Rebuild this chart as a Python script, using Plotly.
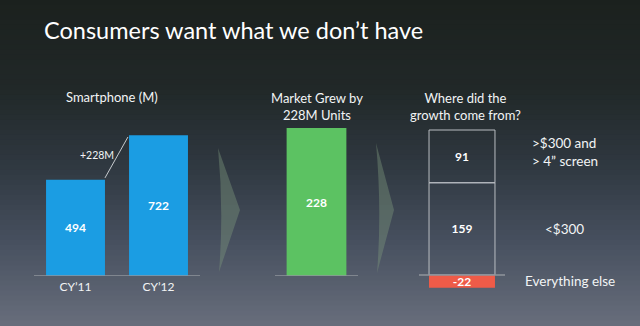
import plotly.graph_objects as go

W, H = 640, 326

# ---------------- data ----------------
years = ["CY’11", "CY’12"]
smartphones = [494, 722]
growth_cat = ["Market"]
growth = [228]
seg_cat = ["Source"]
seg_names = ["<$300", ">$300 and<br>> 4” screen", "Everything else"]
seg_values = [159, 91, -22]
growth_text = "+228M"
title = "Consumers want what we don’t have"

FONT = "Lato"
WHITE = "#f2f4f5"
BLUE = "#1b9de3"
GREEN = "#5cc262"
RED = "#ef5b48"
BOX_LINE = "#b9bdc2"
BASE_LINE = "#8f959d"


def px(x):
    return x / W


def py(y):
    return 1 - y / H


fig = go.Figure()

fig.add_trace(go.Bar(
    x=years, y=smartphones, xaxis="x", yaxis="y", width=0.71,
    marker=dict(color=BLUE, line=dict(width=0)),
    text=smartphones, textposition="inside", insidetextanchor="middle",
    textfont=dict(color="white", size=12, family=FONT, weight="bold"),
    constraintext="none", showlegend=False, hoverinfo="skip"))

fig.add_trace(go.Bar(
    x=growth_cat, y=growth, xaxis="x2", yaxis="y2", width=0.72,
    marker=dict(color=GREEN, line=dict(width=0)),
    text=growth, textposition="inside", insidetextanchor="middle",
    textfont=dict(color="white", size=12, family=FONT, weight="bold"),
    constraintext="none", showlegend=False, hoverinfo="skip"))

for name, v in zip(seg_names, seg_values):
    neg = v < 0
    fig.add_trace(go.Bar(
        x=seg_cat, y=[v], xaxis="x3", yaxis="y3", width=0.767, name=name,
        marker=dict(color=RED if neg else "rgba(0,0,0,0)",
                    line=dict(width=0 if neg else 1, color=BOX_LINE)),
        text=[v], textposition="inside", insidetextanchor="middle",
        textfont=dict(color="white", size=12, family=FONT, weight="bold"),
        constraintext="none", showlegend=False, hoverinfo="skip"))

# ---------------- background gradient ----------------
stops = [(0, (27, 33, 30)), (90, (33, 40, 40)), (170, (48, 57, 66)),
         (240, (70, 79, 94)), (326, (104, 110, 124))]
shapes = []
nb = 65
for i in range(nb):
    y0 = H * i / nb
    y1 = H * (i + 1) / nb
    ym = (y0 + y1) / 2
    for (a, ca), (b, cb) in zip(stops[:-1], stops[1:]):
        if a <= ym <= b:
            t = (ym - a) / (b - a)
            c = tuple(int(round(ca[k] + (cb[k] - ca[k]) * t)) for k in range(3))
            break
    shapes.append(dict(type="rect", xref="paper", yref="paper", layer="below",
                       x0=0, x1=1, y0=py(y1) - 0.002, y1=py(y0) + 0.002,
                       fillcolor="rgb(%d,%d,%d)" % c, line=dict(width=0)))

# chevron arrows (decorative)
def chevron(xl, yt, xr, ym, yb):
    return ("M %f,%f L %f,%f L %f,%f Q %f,%f %f,%f Z" %
            (px(xl), py(yt), px(xr), py(ym), px(xl + 1), py(yb),
             px(xl + 6), py(ym), px(xl), py(yt)))

for path in [chevron(218, 148, 240, 210, 272), chevron(376, 143, 394, 210, 273)]:
    shapes.append(dict(type="path", xref="paper", yref="paper", path=path,
                       layer="below", fillcolor="rgba(125,150,125,0.42)",
                       line=dict(width=0)))

# baselines
for xr, yr in [("x", "y"), ("x2", "y2"), ("x3", "y3")]:
    shapes.append(dict(type="line", xref=xr + " domain", yref=yr,
                       x0=0, x1=1, y0=0, y1=0,
                       line=dict(color=BASE_LINE, width=1.5)))

# growth connector line between the two smartphone bars
shapes.append(dict(type="line", xref="x", yref="y",
                   x0=0.355, y0=smartphones[0] + 9,
                   x1=0.632, y1=smartphones[1] - 9,
                   line=dict(color="rgba(225,228,230,0.85)", width=1)))

annotations = [
    dict(text=title, x=px(42), y=py(30), xanchor="left", yanchor="middle",
         font=dict(size=23.5, color="white", family=FONT)),
    dict(text="Smartphone (M)", x=px(112), y=py(97), xanchor="center",
         yanchor="middle", font=dict(size=13, color=WHITE, family=FONT)),
    dict(text=growth_text, x=px(97), y=py(155), xanchor="center",
         yanchor="middle", font=dict(size=10.5, color=WHITE, family=FONT)),
    dict(text="Market Grew by<br>228M Units", x=px(317), y=py(106),
         xanchor="center", yanchor="middle",
         font=dict(size=13, color=WHITE, family=FONT)),
    dict(text="Where did the<br>growth come from?", x=px(465), y=py(106),
         xanchor="center", yanchor="middle",
         font=dict(size=13, color=WHITE, family=FONT)),
]

# segment labels, positioned at each segment's middle on the data axis
cum_pos = 0
for name, v in zip(seg_names, seg_values):
    if v >= 0:
        mid = cum_pos + v / 2
        cum_pos += v
    else:
        mid = v / 2
    xl = {"<$300": 543, "Everything else": 523}.get(name, 530)
    annotations.append(dict(text=name, x=px(xl), xref="paper", y=mid, yref="y3",
                            xanchor="left", yanchor="middle", align="left",
                            yshift=4 if "4" in name else 0,
                            font=dict(size=13.5, color=WHITE, family=FONT)))

for a in annotations:
    a.setdefault("xref", "paper")
    a.setdefault("yref", "paper")
    a["showarrow"] = False

s_left = 0.195
s_mid = 148 / 228
s_right = 0.58

axis_common = dict(showgrid=False, zeroline=False, showline=False,
                   fixedrange=True)

fig.update_layout(
    width=W, height=H, margin=dict(l=0, r=0, t=0, b=0),
    paper_bgcolor="#262d30", plot_bgcolor="rgba(0,0,0,0)",
    barmode="relative",
    shapes=shapes, annotations=annotations,
    xaxis=dict(domain=[px(34), px(200)], anchor="y", ticks="",
               tickfont=dict(color=WHITE, size=12, family=FONT),
               ticklabelstandoff=2, **axis_common),
    yaxis=dict(domain=[py(276), py(120)], anchor="x", range=[0, 156 / s_left],
               showticklabels=False, **axis_common),
    xaxis2=dict(domain=[px(275), px(358)], anchor="y2",
                showticklabels=False, **axis_common),
    yaxis2=dict(domain=[py(276), py(120)], anchor="x2", range=[0, 156 / s_mid],
                showticklabels=False, **axis_common),
    xaxis3=dict(domain=[px(419), px(505)], anchor="y3",
                showticklabels=False, **axis_common),
    yaxis3=dict(domain=[py(295), py(120)], anchor="x3",
                range=[-20 / s_right, 155 / s_right],
                showticklabels=False, **axis_common),
)

fig.write_html("out.html")
